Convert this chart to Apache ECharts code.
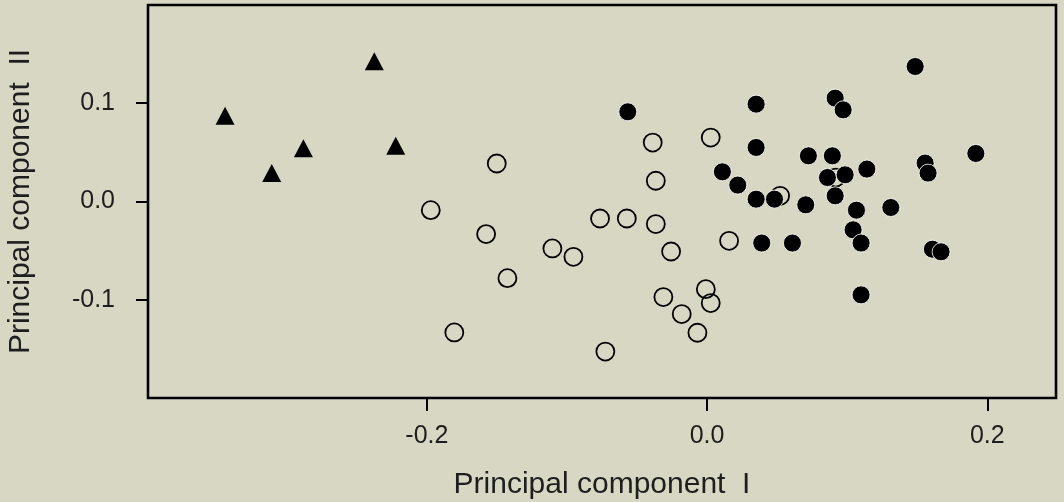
<!DOCTYPE html>
<html>
<head>
<meta charset="utf-8">
<script src="https://cdn.jsdelivr.net/npm/echarts@6/dist/echarts.min.js"></script>
<style>
html,body{margin:0;padding:0;background:#d7d7c3;}
#c{width:1064px;height:502px;}
</style>
</head>
<body>
<div id="c"></div>
<script>
// Data
const triX = [-0.344, -0.3107, -0.2881, -0.2375, -0.2222];
const triY = [0.0872, 0.0289, 0.0541, 0.1427, 0.0567];

const openX = [-0.1501, -0.1972, -0.1577, -0.1425, -0.1804, -0.0388, 0.0026, -0.0366, -0.1104, -0.0954,
               -0.0764, -0.0573, -0.0366, -0.0257, -0.0726, -0.0312, -0.0181, -0.0069, -0.0009, 0.0026,
               0.0157, 0.0521, 0.0918];
const openY = [0.0387, -0.0088, -0.0332, -0.078, -0.1333, 0.060, 0.0651, 0.0211, -0.0478, -0.0563,
               -0.0173, -0.0173, -0.023, -0.0509, -0.1527, -0.0973, -0.1146, -0.1336, -0.0892, -0.1034,
               -0.04, 0.0058, 0.0244];

const fillX = [-0.0566, 0.035, 0.035, 0.0109, 0.0219, 0.035, 0.0481, 0.039, 0.0609, 0.1485,
               0.0914, 0.0971, 0.0723, 0.0894, 0.0859, 0.0985, 0.114, 0.1556, 0.1577, 0.1918,
               0.0914, 0.0704, 0.1066, 0.1311, 0.1042, 0.1099, 0.1608, 0.167, 0.1099];
const fillY = [0.0913, 0.0991, 0.055, 0.0302, 0.0167, 0.0024, 0.0024, -0.0423, -0.0423, 0.1374,
               0.1052, 0.0933, 0.0465, 0.0465, 0.0244, 0.0272, 0.033, 0.0391, 0.0289, 0.0489,
               0.0058, -0.0034, -0.0088, -0.0061, -0.0288, -0.0423, -0.0485, -0.0512, -0.095];

const xTicks = [-0.2, 0.0, 0.2];
const yTicks = [-0.1, 0.0, 0.1];
const xTitle = 'Principal component  I';
const yTitle = 'Principal component  II';

const zip = (a, b) => a.map((v, i) => [v, b[i]]);
const font = 'Liberation Sans, Arial, sans-serif';
const txt = '#1e1e1e';

const chart = echarts.init(document.getElementById('c'), null, {renderer: 'canvas'});
chart.setOption({
  backgroundColor: '#d7d7c3',
  animation: false,
  grid: {left: 148, top: 5, width: 908, height: 393, show: true, borderColor: '#000', borderWidth: 2.6,
    backgroundColor: 'transparent', containLabel: false, outerBoundsMode: 'none'},
  xAxis: {
    type: 'value', min: -0.399, max: 0.249,
    axisLine: {show: false, onZero: false},
    splitLine: {show: false},
    axisTick: {show: true, inside: false, length: 13, lineStyle: {color: '#000', width: 2}, customValues: xTicks},
    axisLabel: {show: true, customValues: xTicks, margin: 26, color: txt, fontSize: 25, fontFamily: font,
      formatter: v => v.toFixed(1)},
    name: xTitle, nameLocation: 'middle', nameGap: 72,
    nameTextStyle: {color: txt, fontSize: 30, fontFamily: font}
  },
  yAxis: {
    type: 'value', min: -0.2, max: 0.2,
    axisLine: {show: false, onZero: false},
    splitLine: {show: false},
    axisTick: {show: true, inside: false, length: 12, lineStyle: {color: '#000', width: 2}, customValues: yTicks},
    axisLabel: {show: true, customValues: yTicks, margin: 33, color: txt, fontSize: 25, fontFamily: font,
      formatter: v => v.toFixed(1)},
    name: yTitle, nameLocation: 'middle', nameGap: 112,
    nameTextStyle: {color: txt, fontSize: 30, fontFamily: font}
  },
  series: [
    {type: 'scatter', data: zip(triX, triY), symbol: 'triangle', symbolSize: [19, 18],
      itemStyle: {color: '#000', opacity: 1}},
    {type: 'scatter', data: zip(openX, openY), symbol: 'circle', symbolSize: 18,
      itemStyle: {color: 'rgba(0,0,0,0)', borderColor: '#000', borderWidth: 1.8, opacity: 1}},
    {type: 'scatter', data: zip(fillX, fillY), symbol: 'circle', symbolSize: 18,
      itemStyle: {color: '#000', borderColor: '#fff', borderWidth: 0.8, opacity: 1}}
  ]
});
</script>
</body>
</html>
